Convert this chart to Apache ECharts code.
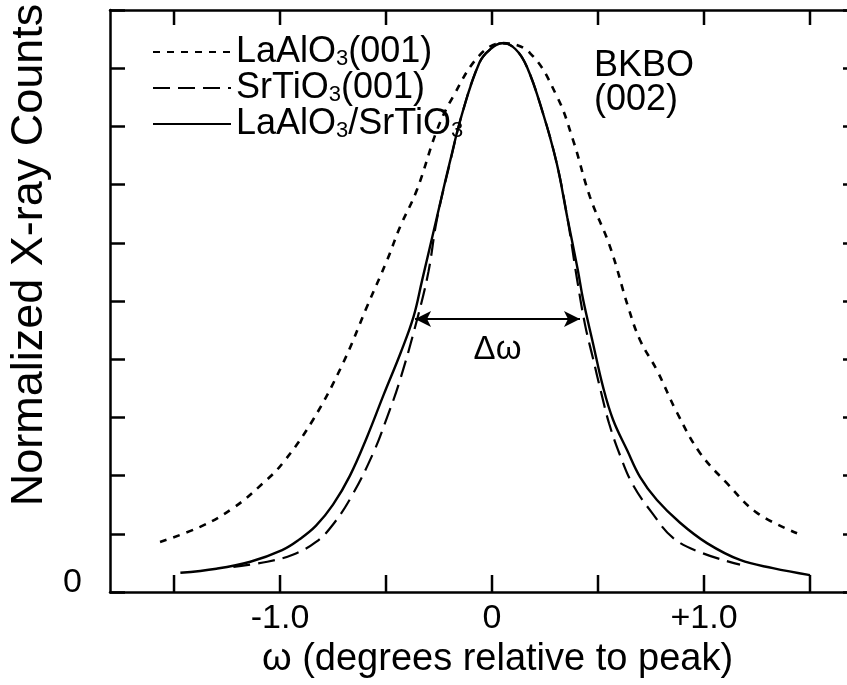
<!DOCTYPE html>
<html><head><meta charset="utf-8">
<script src="https://cdn.jsdelivr.net/npm/echarts@6/dist/echarts.min.js"></script>
<style>html,body{margin:0;padding:0;background:#fff}#c{width:847px;height:685px}</style>
</head><body><div id="c"></div>
<script>
// ---- data ----
const seriesNames = ['LaAlO3(001)', 'SrTiO3(001)', 'LaAlO3/SrTiO3'];
const legendRich = ['LaAlO{s|3}(001)', 'SrTiO{s|3}(001)', 'LaAlO{s|3}/SrTiO{s|3}'];

const laoOmega  = [-1.566, -1.377, -1.222, -1.08, -0.986, -0.844, -0.703, -0.59, -0.495, -0.434, -0.354, -0.259, -0.184, -0.057, 0.052, 0.179, 0.307, 0.382, 0.462, 0.557, 0.642, 0.698, 0.778, 0.873, 0.981, 1.108, 1.25, 1.439];
const laoCounts = [0.86, 1.12, 1.44, 1.87, 2.22, 2.96, 3.93, 4.90, 5.70, 6.27, 6.91, 7.94, 8.51, 9.23, 9.43, 9.26, 8.51, 7.77, 6.79, 5.93, 4.90, 4.33, 3.81, 3.08, 2.39, 1.87, 1.36, 1.01];

const stoOmega  = [-1.22, -1.06, -0.94, -0.83, -0.75, -0.66, -0.56, -0.495, -0.434, -0.35, -0.30, -0.26, -0.20, -0.14, -0.06, -0.01, 0.05, 0.11, 0.165, 0.24, 0.305, 0.355, 0.40, 0.439, 0.476, 0.514, 0.552, 0.604, 0.665, 0.755, 0.854, 0.991, 1.17];
const stoCounts = [0.43, 0.52, 0.64, 0.86, 1.16, 1.66, 2.39, 3.00, 3.64, 4.73, 5.50, 6.40, 7.35, 8.23, 9.09, 9.32, 9.43, 9.33, 9.02, 8.23, 7.37, 6.44, 5.40, 4.59, 4.02, 3.44, 2.90, 2.35, 1.84, 1.36, 0.93, 0.67, 0.47];

const bothOmega  = [-1.47, -1.30, -1.14, -0.99, -0.91, -0.83, -0.75, -0.67, -0.59, -0.51, -0.43, -0.37, -0.33, -0.26, -0.20, -0.14, -0.06, -0.01, 0.05, 0.11, 0.165, 0.24, 0.305, 0.355, 0.405, 0.43, 0.476, 0.524, 0.571, 0.637, 0.698, 0.778, 0.887, 1.014, 1.17, 1.325, 1.50];
const bothCounts = [0.33, 0.40, 0.52, 0.72, 0.90, 1.14, 1.50, 2.00, 2.66, 3.40, 4.12, 4.73, 5.35, 6.44, 7.37, 8.23, 9.09, 9.32, 9.43, 9.33, 9.02, 8.23, 7.37, 6.44, 5.53, 5.02, 4.28, 3.52, 2.96, 2.44, 1.98, 1.58, 1.19, 0.84, 0.55, 0.41, 0.29];

const xMin = -1.802, xMax = 1.684;      // visible omega range of the frame
const yMin = 0, yMax = 10;
const xTickValues  = [-1.5, -1.0, -0.5, 0, 0.5, 1.0, 1.5];
const xLabelValues = [-1.0, 0, 1.0];
const xLabelTexts  = ['-1.0', '0', '+1.0'];
const yLabelValues = [0];
const yLabelTexts  = ['0'];

const fwhmLeft = -0.363, fwhmRight = 0.415, halfMax = 4.69;
const fwhmLabel = 'Δω';
const sampleLabel = 'BKBO\n(002)';

// ---- chart ----
const FONT = '"Liberation Sans", Arial, Helvetica, sans-serif';
const zip = (a, b) => a.map((v, i) => [v, b[i]]);
const chart = echarts.init(document.getElementById('c'), null, {renderer: 'canvas'});

const axisLineStyle = {color: '#000', width: 2.5};
const tickLine = {color: '#000', width: 2.5};
const commonX = {type: 'value', min: xMin, max: xMax, splitLine: {show: false}};
const commonY = {type: 'value', min: yMin, max: yMax, interval: 1, splitLine: {show: false}};
const BOTTOM_TICK = 17, TOP_TICK = 15;

// inward tick marks on the bottom and top frame lines, placed through the x scale
function renderXTicks(params, api) {
  const bottom = api.coord([api.value(0), yMin]);
  const top = api.coord([api.value(0), yMax]);
  const style = {stroke: '#000', lineWidth: 2.5};
  return {
    type: 'group',
    children: [
      {type: 'line', shape: {x1: bottom[0], y1: bottom[1], x2: bottom[0], y2: bottom[1] - BOTTOM_TICK}, style: style},
      {type: 'line', shape: {x1: top[0], y1: top[1], x2: top[0], y2: top[1] + TOP_TICK}, style: style}
    ]
  };
}

const option = {
  animation: false,
  backgroundColor: '#fff',
  grid: {left: 110, top: 10, width: 739, height: 582, containLabel: false, outerBoundsMode: 'none'},
  legend: {
    orient: 'vertical', left: 152, top: 34, padding: 0, itemGap: 0,
    itemWidth: 78, itemHeight: 14, selectedMode: false,
    itemStyle: {opacity: 0},
    data: seriesNames,
    formatter: name => legendRich[seriesNames.indexOf(name)],
    textStyle: {
      fontFamily: FONT, fontSize: 36, color: '#000', lineHeight: 36,
      rich: {s: {fontFamily: FONT, fontSize: 22, color: '#000', lineHeight: 4, verticalAlign: 'bottom'}}
    }
  },
  xAxis: [
    Object.assign({}, commonX, {
      position: 'bottom',
      axisLine: {onZero: false, lineStyle: axisLineStyle},
      axisTick: {show: false},
      axisLabel: {customValues: xLabelValues, formatter: v => xLabelTexts[xLabelValues.indexOf(Math.round(v * 10) / 10)],
        fontFamily: FONT, fontSize: 34, color: '#000', margin: 10},
      name: 'ω (degrees relative to peak)', nameLocation: 'middle', nameGap: 42,
      nameTextStyle: {fontFamily: FONT, fontSize: 38, color: '#000', padding: [0, 0, 0, 36]}
    }),
    Object.assign({}, commonX, {
      position: 'top',
      axisLine: {onZero: false, lineStyle: axisLineStyle},
      axisTick: {show: false}, axisLabel: {show: false}
    })
  ],
  yAxis: [
    Object.assign({}, commonY, {
      position: 'left',
      axisLine: {onZero: false, lineStyle: axisLineStyle},
      axisTick: {inside: true, length: 15, lineStyle: tickLine},
      axisLabel: {customValues: yLabelValues, formatter: v => yLabelTexts[yLabelValues.indexOf(v)],
        fontFamily: FONT, fontSize: 34, color: '#000', margin: 28, verticalAlign: 'bottom', lineHeight: 18},
      name: 'Normalized X-ray Counts', nameLocation: 'middle', nameGap: 58,
      nameTextStyle: {fontFamily: FONT, fontSize: 45, color: '#000', padding: [0, 0, 0, 92]}
    }),
    Object.assign({}, commonY, {
      position: 'right',
      axisLine: {onZero: false, lineStyle: axisLineStyle},
      axisTick: {inside: true, length: 6, lineStyle: tickLine},
      axisLabel: {show: false}
    })
  ],
  series: [
    {name: seriesNames[0], type: 'line', xAxisIndex: 0, yAxisIndex: 0, data: zip(laoOmega, laoCounts), smooth: 0.4, symbol: 'none',
      lineStyle: {color: '#000', width: 2.6, type: [7, 7]}, itemStyle: {color: '#000'}},
    {name: seriesNames[1], type: 'line', xAxisIndex: 0, yAxisIndex: 0, data: zip(stoOmega, stoCounts), smooth: 0.4, symbol: 'none',
      lineStyle: {color: '#000', width: 2.2, type: [17, 8]}, itemStyle: {color: '#000'}},
    {name: seriesNames[2], type: 'line', xAxisIndex: 0, yAxisIndex: 0, data: zip(bothOmega, bothCounts), smooth: 0.4, symbol: 'none',
      lineStyle: {color: '#000', width: 2.4, type: 'solid'}, itemStyle: {color: '#000'},
      markLine: {
        silent: true, symbol: ['arrow', 'arrow'], symbolSize: [12, 16],
        lineStyle: {color: '#000', width: 2, type: 'solid'},
        label: {show: true, formatter: fwhmLabel, position: 'insideMiddleBottom', distance: 14,
          fontFamily: FONT, fontSize: 33, color: '#000'},
        data: [[{coord: [fwhmLeft, halfMax]}, {coord: [fwhmRight, halfMax]}]]
      }},
    {name: 'xTicks', type: 'custom', xAxisIndex: 0, yAxisIndex: 0, silent: true, clip: false,
      renderItem: renderXTicks, data: xTickValues.map(v => [v, yMin]), z: 5}
  ],
  graphic: [{
    type: 'text', left: 594, top: 48,
    style: {text: sampleLabel, font: '36px ' + FONT, fill: '#000', lineHeight: 34}
  }]
};
chart.setOption(option);
</script></body></html>
